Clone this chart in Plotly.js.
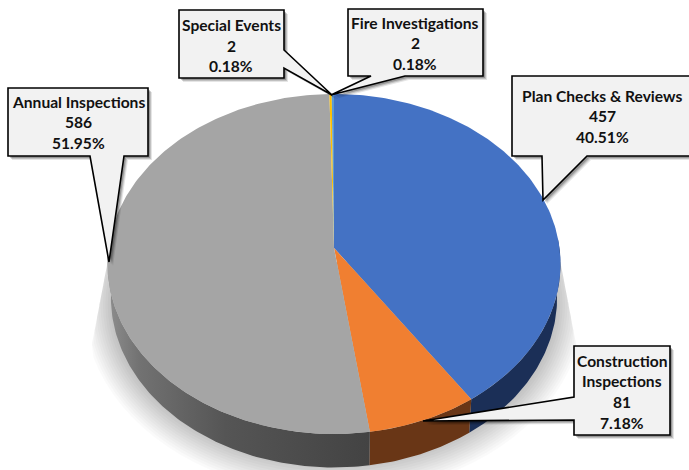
<!DOCTYPE html>
<html>
<head>
<meta charset="utf-8">
<script src="https://cdn.plot.ly/plotly-3.0.1.min.js"></script>
<style>html,body{margin:0;padding:0;background:#fff}#chart{width:689px;height:470px}</style>
</head>
<body>
<div id="chart"></div>
<script>
// ---- Data (clockwise from 12 o'clock) ----
const categories = ["Plan Checks & Reviews", "Construction Inspections", "Annual Inspections", "Special Events", "Fire Investigations"];
const counts = [457, 81, 586, 2, 2];
const percents = ["40.51%", "7.18%", "51.95%", "0.18%", "0.18%"];
const topColors = ["#4472C4", "#F07F31", "#A5A5A5", "#FFC000", "#5B9BD5"];
const wallColors = ["#1B2F57", "#693616", "#555555", "#7F6000", "#264A70"];

// ---- Perspective model of the tilted disc, in picture pixels ----
const disc = {x0: 334, y0: 248, A: 225.5, B: 168.5, k: 0.094, depth: 33.5, shrink: 0.985};
function rim(frac, lower) {
  const th = 2 * Math.PI * frac, u = Math.sin(th), v = Math.cos(th), w = 1 + disc.k * v;
  let x = disc.A * u / w, y = disc.y0 - disc.B * v / w;
  if (lower) { x *= disc.shrink; y += disc.depth; }
  return [disc.x0 + x, y];
}
function arc(f0, f1, lower) {
  const n = Math.max(2, Math.ceil(Math.abs(f1 - f0) * 400)), pts = [];
  for (let i = 0; i <= n; i++) pts.push(rim(f0 + (f1 - f0) * i / n, lower));
  return pts;
}
const total = counts.reduce((a, b) => a + b, 0);
const starts = []; counts.reduce((c, v, i) => (starts[i] = c / total, c + v), 0);

const traces = [];
function poly(pts, color, name, gradient) {
  const t = {type: "scatter", mode: "lines", x: pts.map(p => p[0]), y: pts.map(p => p[1]), fill: "toself",
    fillcolor: color, line: {width: 0, color: color}, name: name, hoverinfo: "skip", showlegend: false};
  if (gradient) t.fillgradient = gradient;
  traces.push(t);
}
// side walls (only the front half of the disc is visible)
counts.forEach((v, i) => {
  const f0 = starts[i], f1 = Math.min(starts[i] + v / total, 0.76);
  const a = Math.max(f0, 0.24);
  if (f1 <= a) return;
  const pts = arc(a, f1, false).concat(arc(f1, a, true));
  const grad = categories[i] === "Annual Inspections" ? {type: "horizontal",
    colorscale: [[0, "#8E8E8E"], [0.12, "#727272"], [0.45, "#555555"], [1, "#434343"]]} : null;
  poly(pts, wallColors[i], categories[i] + " side", grad);
});
// top face
counts.forEach((v, i) => {
  const pts = [[disc.x0, disc.y0]].concat(arc(starts[i], starts[i] + v / total, false));
  pts.push([disc.x0, disc.y0]);
  poly(pts, topColors[i], categories[i]);
});

// ---- Soft ground shadow ----
const shapes = [];
function toPath(pts) { return "M" + pts.map(p => p[0].toFixed(1) + "," + p[1].toFixed(1)).join("L") + "Z"; }
for (let i = 0; i < 12; i++) {
  const a = 224 + i * 2.4, b = 161 + i * 2.6, pts = [];
  for (let j = 0; j < 90; j++) {
    const t = j / 90 * 2 * Math.PI;
    let y = Math.max(305 + b * Math.sin(t), 262);
    const hw = 226.5 + (y - 262) * 0.19;
    const dx = Math.max(-hw, Math.min(hw, a * Math.cos(t)));
    pts.push([334 + dx, y]);
  }
  shapes.push({type: "path", layer: "below", xref: "x", yref: "y", path: toPath(pts), fillcolor: "rgba(0,0,0,0.021)", line: {width: 0}});
}

// ---- Callouts: outline, then one row of text per line ----
const callouts = [
  {box: [512, 76, 693, 156], ptr: [[587, 156], [543, 200], [542, 156]], lines: [[0, "name"], [0, "count"], [0, "pct"]], cx: 602, ys: [96, 116, 137]},
  {box: [574, 346, 670, 435], ptr: [[574, 420], [423, 421], [574, 397]], lines: [[1, "Construction"], [1, "Inspections"], [1, "count"], [1, "pct"]], cx: 622, ys: [361, 381, 402, 423]},
  {box: [8, 88, 148, 156], ptr: [[124, 156], [109, 262], [90, 156]], lines: [[2, "name"], [2, "count"], [2, "pct"]], cx: 78, ys: [102, 122, 143]},
  {box: [179, 10, 284, 78], ptr: [[284, 68], [332, 95], [284, 50]], lines: [[3, "name"], [3, "count"], [3, "pct"]], cx: 231, ys: [25, 46, 66], side: "right"},
  {box: [348, 9, 483, 76], ptr: [[405, 76], [331, 95], [371, 76]], lines: [[4, "name"], [4, "count"], [4, "pct"]], cx: 415, ys: [23, 43, 64]}
];
function outline(c, dx, dy) {
  const [l, t, r, b] = c.box, p = c.ptr;
  let pts;
  if (p[0][0] === r && c.side === "right") pts = [[l, t], [r, t], p[2], p[1], p[0], [r, b], [l, b]];
  else if (p[0][0] === l) pts = [[l, t], [r, t], [r, b], [l, b], p[0], p[1], p[2]];
  else pts = [[l, t], [r, t], [r, b], p[0], p[1], p[2], [l, b]];
  return toPath(pts.map(q => [q[0] + dx, q[1] + dy]));
}
const annotations = [];
callouts.forEach(c => {
  [[4, 4, 0.10], [3, 3, 0.16], [2, 2, 0.22]].forEach(s => shapes.push({type: "path", layer: "above", xref: "x", yref: "y",
    path: outline(c, s[0], s[1]), fillcolor: "rgba(0,0,0," + s[2] + ")", line: {width: 0}}));
  shapes.push({type: "path", layer: "above", xref: "x", yref: "y", path: outline(c, 0, 0),
    fillcolor: "#F2F2F2", line: {color: "#000000", width: 1.6}});
  c.lines.forEach((ln, j) => {
    const i = ln[0], key = ln[1];
    const text = key === "name" ? categories[i] : key === "count" ? String(counts[i]) : key === "pct" ? percents[i] : key;
    annotations.push({xref: "x", yref: "y", x: c.cx, y: c.ys[j], text: text.replace("&", "&amp;"), showarrow: false,
      xanchor: "center", yanchor: "middle", font: {family: "Lato, 'Open Sans', sans-serif", size: 15.6, color: "#111111", weight: 700}});
  });
});

const layout = {
  width: 689, height: 470, autosize: false, showlegend: false,
  margin: {l: 0, r: 0, t: 0, b: 0, pad: 0},
  paper_bgcolor: "#FFFFFF", plot_bgcolor: "#FFFFFF",
  xaxis: {range: [0, 689], visible: false, fixedrange: true},
  yaxis: {range: [470, 0], visible: false, fixedrange: true},
  shapes: shapes, annotations: annotations
};
Plotly.newPlot("chart", traces, layout, {displayModeBar: false, staticPlot: true});
</script>
</body>
</html>
